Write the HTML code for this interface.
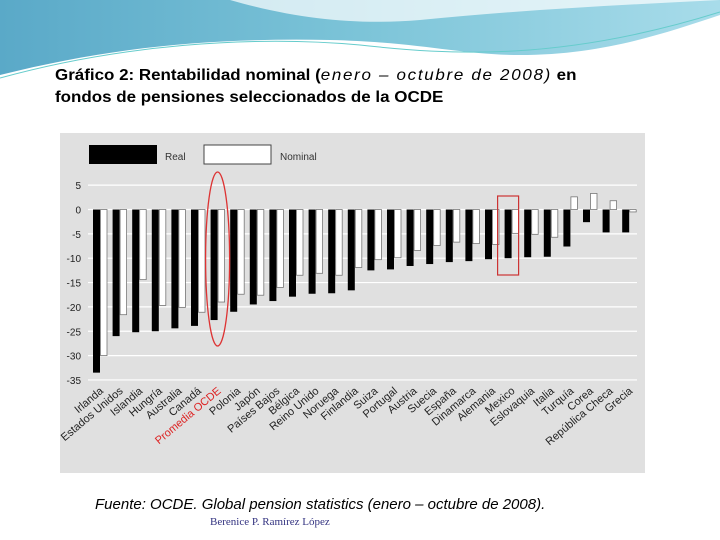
<!DOCTYPE html>
<html><head><meta charset="utf-8"><style>
body{margin:0;width:720px;height:540px;background:#fff;position:relative;overflow:hidden;font-family:"Liberation Sans",sans-serif}
#title{position:absolute;left:55px;top:65px;font-size:16px;font-weight:bold;line-height:22px;color:#000;transform:scaleX(1.06);transform-origin:0 0}
#title i{font-weight:normal;letter-spacing:1.6px}
#src{position:absolute;left:95px;top:496px;font-size:15px;font-style:italic}
#auth{position:absolute;left:210px;top:516px;font-size:11px;font-family:"Liberation Serif",serif;color:#333380}
</style></head><body>
<svg width="720" height="80" style="position:absolute;left:0;top:0">
<defs><linearGradient id="g" x1="0" x2="1" y1="0" y2="0"><stop offset="0" stop-color="#5aa9c8"/><stop offset="0.5" stop-color="#7cc4d8"/><stop offset="1" stop-color="#a8dcea"/></linearGradient></defs>
<path d="M0,0 H720 V15 C660,35 600,55 520,55 C460,55 420,42 330,40 C220,38 120,45 0,75 Z" fill="url(#g)"/>
<path d="M230,0 C300,20 360,25 420,20 C520,10 620,5 720,0 Z" fill="#fff" opacity="0.7"/>
<path d="M0,78 C120,45 250,35 360,45 C450,55 560,62 720,12" stroke="#6cc" stroke-width="1" fill="none"/>
</svg>
<div id="title">Gráfico 2: Rentabilidad nominal (<i>enero – octubre de 2008)</i> en<br>fondos de pensiones seleccionados de la OCDE</div>
<svg id="chart" width="720" height="540" style="position:absolute;left:0;top:0" font-family="Liberation Sans, sans-serif"></svg>
<div id="src">Fuente: OCDE. Global pension statistics (enero – octubre de 2008).</div>
<div id="auth">Berenice P. Ramírez López</div>
<script>
const categories=["Irlanda","Estados Unidos","Islandia","Hungría","Australia","Canadá","Promedia OCDE","Polonia","Japón","Países Bajos","Bélgica","Reino Unido","Noruega","Finlandia","Suiza","Portugal","Austria","Suecia","España","Dinamarca","Alemania","Mexico","Eslovaquia","Italia","Turquía","Corea","República Checa","Grecia"];
const realValues=[-33.5,-26,-25.2,-25,-24.4,-23.9,-22.7,-21,-19.5,-18.8,-17.9,-17.3,-17.2,-16.6,-12.5,-12.3,-11.6,-11.2,-10.8,-10.6,-10.2,-10,-9.8,-9.7,-7.6,-2.6,-4.7,-4.7];
const nominalValues=[-30,-21.6,-14.4,-19.7,-20.1,-21.1,-19,-17.4,-17.6,-16,-13.5,-13.1,-13.5,-11.9,-10.3,-9.9,-8.4,-7.4,-6.7,-7,-7.2,-4.9,-5.1,-5.7,2.6,3.3,1.8,-0.5];
const yTicks=[5,0,-5,-10,-15,-20,-25,-30,-35];
const NS="http://www.w3.org/2000/svg",svg=document.getElementById('chart');
const y=v=>209.5-v*4.87;
const x=i=>93+i*19.6;
function mk(t,a,p){const e=document.createElementNS(NS,t);for(const k in a)e.setAttribute(k,a[k]);(p||svg).appendChild(e);return e;}
const bg=mk('rect',{x:60,y:133,width:585,height:340,fill:'#e0e0e0'});


yTicks.forEach(t=>{
 const g=mk('line',{x1:88,x2:637,y1:y(t),y2:y(t),stroke:'#fff','stroke-width':1.2});
 
 
 const l=mk('text',{x:81,y:y(t)+4,'text-anchor':'end','font-size':10,fill:'#222'});l.textContent=t;
 
 
});
categories.forEach((c,i)=>{
 const r=realValues[i],n=nominalValues[i];
 const b=mk('rect',{x:x(i),y:Math.min(y(0),y(r)),width:7,height:Math.abs(y(r)-y(0)),fill:'#000'});
 
 
 const w=mk('rect',{x:x(i)+7.5,y:Math.min(y(0),y(n)),width:6.5,height:Math.abs(y(n)-y(0)),fill:'#fff',stroke:'#777','stroke-width':0.8});
 
 
 const cx=x(i)+11,cy=392;
 const t=mk('text',{x:cx,y:cy,'text-anchor':'end','font-size':11,fill:c.startsWith('Promedia')?'#d22':'#222',transform:`rotate(-40 ${cx} ${cy})`});t.textContent=c;
 
 
});
const l1=mk('rect',{x:89,y:145,width:68,height:19,fill:'#000'});


const lt1=mk('text',{x:165,y:160,'font-size':10,fill:'#333'});lt1.textContent='Real';


const l2=mk('rect',{x:204,y:145,width:67,height:19,fill:'#fff',stroke:'#444'});


const lt2=mk('text',{x:280,y:160,'font-size':10,fill:'#333'});lt2.textContent='Nominal';


const el=mk('ellipse',{cx:x(6)+7,cy:259,rx:12,ry:87,fill:'none',stroke:'#d33','stroke-width':1.3});


const bx=mk('rect',{x:x(21)-7,y:196,width:21,height:79,fill:'none',stroke:'#c33','stroke-width':1.2});


</script>
</body></html>
